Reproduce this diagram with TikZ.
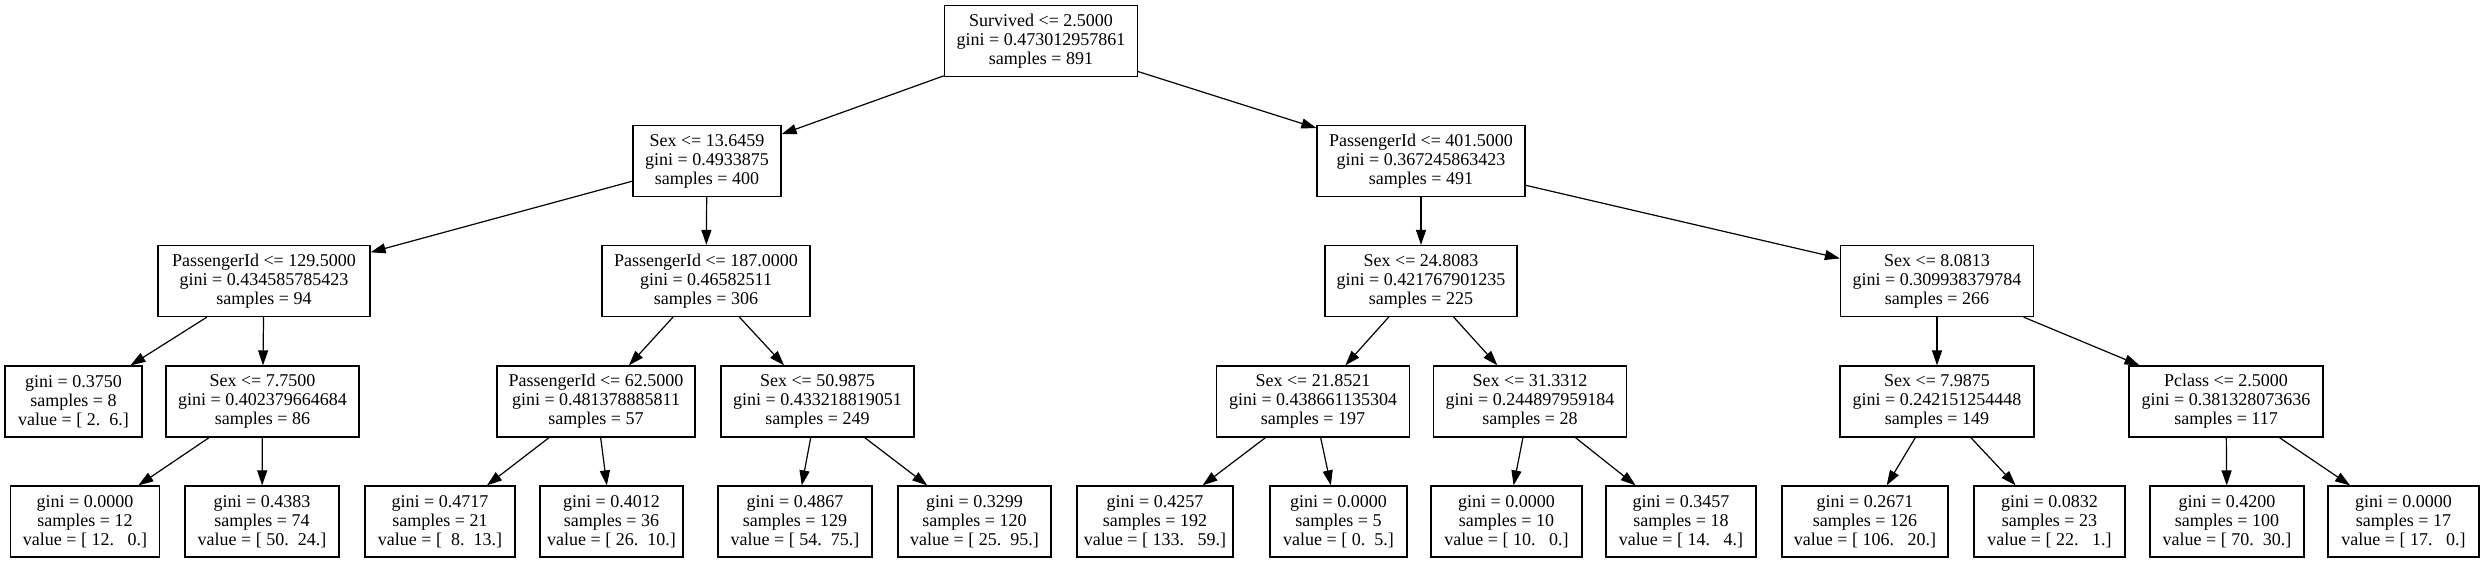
\documentclass[tikz,border=0pt]{standalone}
\usepackage{fontspec}
\setmainfont{Liberation Serif}
\usetikzlibrary{arrows.meta}
\begin{document}
\begin{tikzpicture}[x=1pt,y=-1pt,
  tn/.style={draw, line width=1.25pt, rectangle, inner sep=0pt, minimum height=71pt,
    align=center, font=\fontsize{18}{19}\selectfont},
  edge/.style={line width=1.2pt, -{Triangle[length=15pt,width=10pt]}}]
\useasboundingbox[fill=white] (0,0) rectangle (2484,563);
% row 1
\node[tn, minimum width=193pt] (n0) at (1041,41) {Survived <= 2.5000\\gini = 0.473012957861\\samples = 891};
% row 2
\node[tn, minimum width=148pt] (n1) at (707,161) {Sex <= 13.6459\\gini = 0.4933875\\samples = 400};
\node[tn, minimum width=208pt] (n2) at (1421,161) {PassengerId <= 401.5000\\gini = 0.367245863423\\samples = 491};
% row 3
\node[tn, minimum width=212pt] (n3) at (264,281) {PassengerId <= 129.5000\\gini = 0.434585785423\\samples = 94};
\node[tn, minimum width=208pt] (n4) at (706,281) {PassengerId <= 187.0000\\gini = 0.46582511\\samples = 306};
\node[tn, minimum width=192pt] (n5) at (1421,281) {Sex <= 24.8083\\gini = 0.421767901235\\samples = 225};
\node[tn, minimum width=193pt] (n6) at (1937,281) {Sex <= 8.0813\\gini = 0.309938379784\\samples = 266};
% row 4
\node[tn, minimum width=137pt] (n7) at (73.5,401.5) {gini = 0.3750\\samples = 8\\value = [ 2.~~6.]};
\node[tn, minimum width=193pt] (n8) at (262.5,401.5) {Sex <= 7.7500\\gini = 0.402379664684\\samples = 86};
\node[tn, minimum width=198pt] (n9) at (596,401.5) {PassengerId <= 62.5000\\gini = 0.481378885811\\samples = 57};
\node[tn, minimum width=193pt] (n10) at (817.5,401.5) {Sex <= 50.9875\\gini = 0.433218819051\\samples = 249};
\node[tn, minimum width=193pt] (n11) at (1313,401.5) {Sex <= 21.8521\\gini = 0.438661135304\\samples = 197};
\node[tn, minimum width=193pt] (n12) at (1530,401.5) {Sex <= 31.3312\\gini = 0.244897959184\\samples = 28};
\node[tn, minimum width=194pt] (n13) at (1937,401.5) {Sex <= 7.9875\\gini = 0.242151254448\\samples = 149};
\node[tn, minimum width=194pt] (n14) at (2226,401.5) {Pclass <= 2.5000\\gini = 0.381328073636\\samples = 117};
% row 5
\node[tn, minimum width=149pt] (n15) at (85,521.5) {gini = 0.0000\\samples = 12\\value = [ 12.~~~0.]};
\node[tn, minimum width=154pt] (n16) at (262,521.5) {gini = 0.4383\\samples = 74\\value = [ 50.~~24.]};
\node[tn, minimum width=150pt] (n17) at (440,521.5) {gini = 0.4717\\samples = 21\\value = [~~8.~~13.]};
\node[tn, minimum width=143pt] (n18) at (611.5,521.5) {gini = 0.4012\\samples = 36\\value = [ 26.~~10.]};
\node[tn, minimum width=154pt] (n19) at (795,521.5) {gini = 0.4867\\samples = 129\\value = [ 54.~~75.]};
\node[tn, minimum width=153pt] (n20) at (974.5,521.5) {gini = 0.3299\\samples = 120\\value = [ 25.~~95.]};
\node[tn, minimum width=156pt] (n21) at (1155,521.5) {gini = 0.4257\\samples = 192\\value = [ 133.~~~59.]};
\node[tn, minimum width=137pt] (n22) at (1338.5,521.5) {gini = 0.0000\\samples = 5\\value = [ 0.~~5.]};
\node[tn, minimum width=151pt] (n23) at (1506.5,521.5) {gini = 0.0000\\samples = 10\\value = [ 10.~~~0.]};
\node[tn, minimum width=150pt] (n24) at (1681,521.5) {gini = 0.3457\\samples = 18\\value = [ 14.~~~4.]};
\node[tn, minimum width=166pt] (n25) at (1865,521.5) {gini = 0.2671\\samples = 126\\value = [ 106.~~~20.]};
\node[tn, minimum width=151pt] (n26) at (2049.5,521.5) {gini = 0.0832\\samples = 23\\value = [ 22.~~~1.]};
\node[tn, minimum width=154pt] (n27) at (2227,521.5) {gini = 0.4200\\samples = 100\\value = [ 70.~~30.]};
\node[tn, minimum width=151pt] (n28) at (2403.5,521.5) {gini = 0.0000\\samples = 17\\value = [ 17.~~~0.]};
% edges
\foreach \a/\b in {n0/n1,n0/n2,n1/n3,n1/n4,n2/n5,n2/n6,n3/n7,n3/n8,n8/n15,n8/n16,
  n4/n9,n4/n10,n9/n17,n9/n18,n10/n19,n10/n20,n5/n11,n5/n12,n11/n21,n11/n22,
  n12/n23,n12/n24,n6/n13,n6/n14,n13/n25,n13/n26,n14/n27,n14/n28}
  \draw[edge] (\a) -- (\b);
\end{tikzpicture}
\end{document}
